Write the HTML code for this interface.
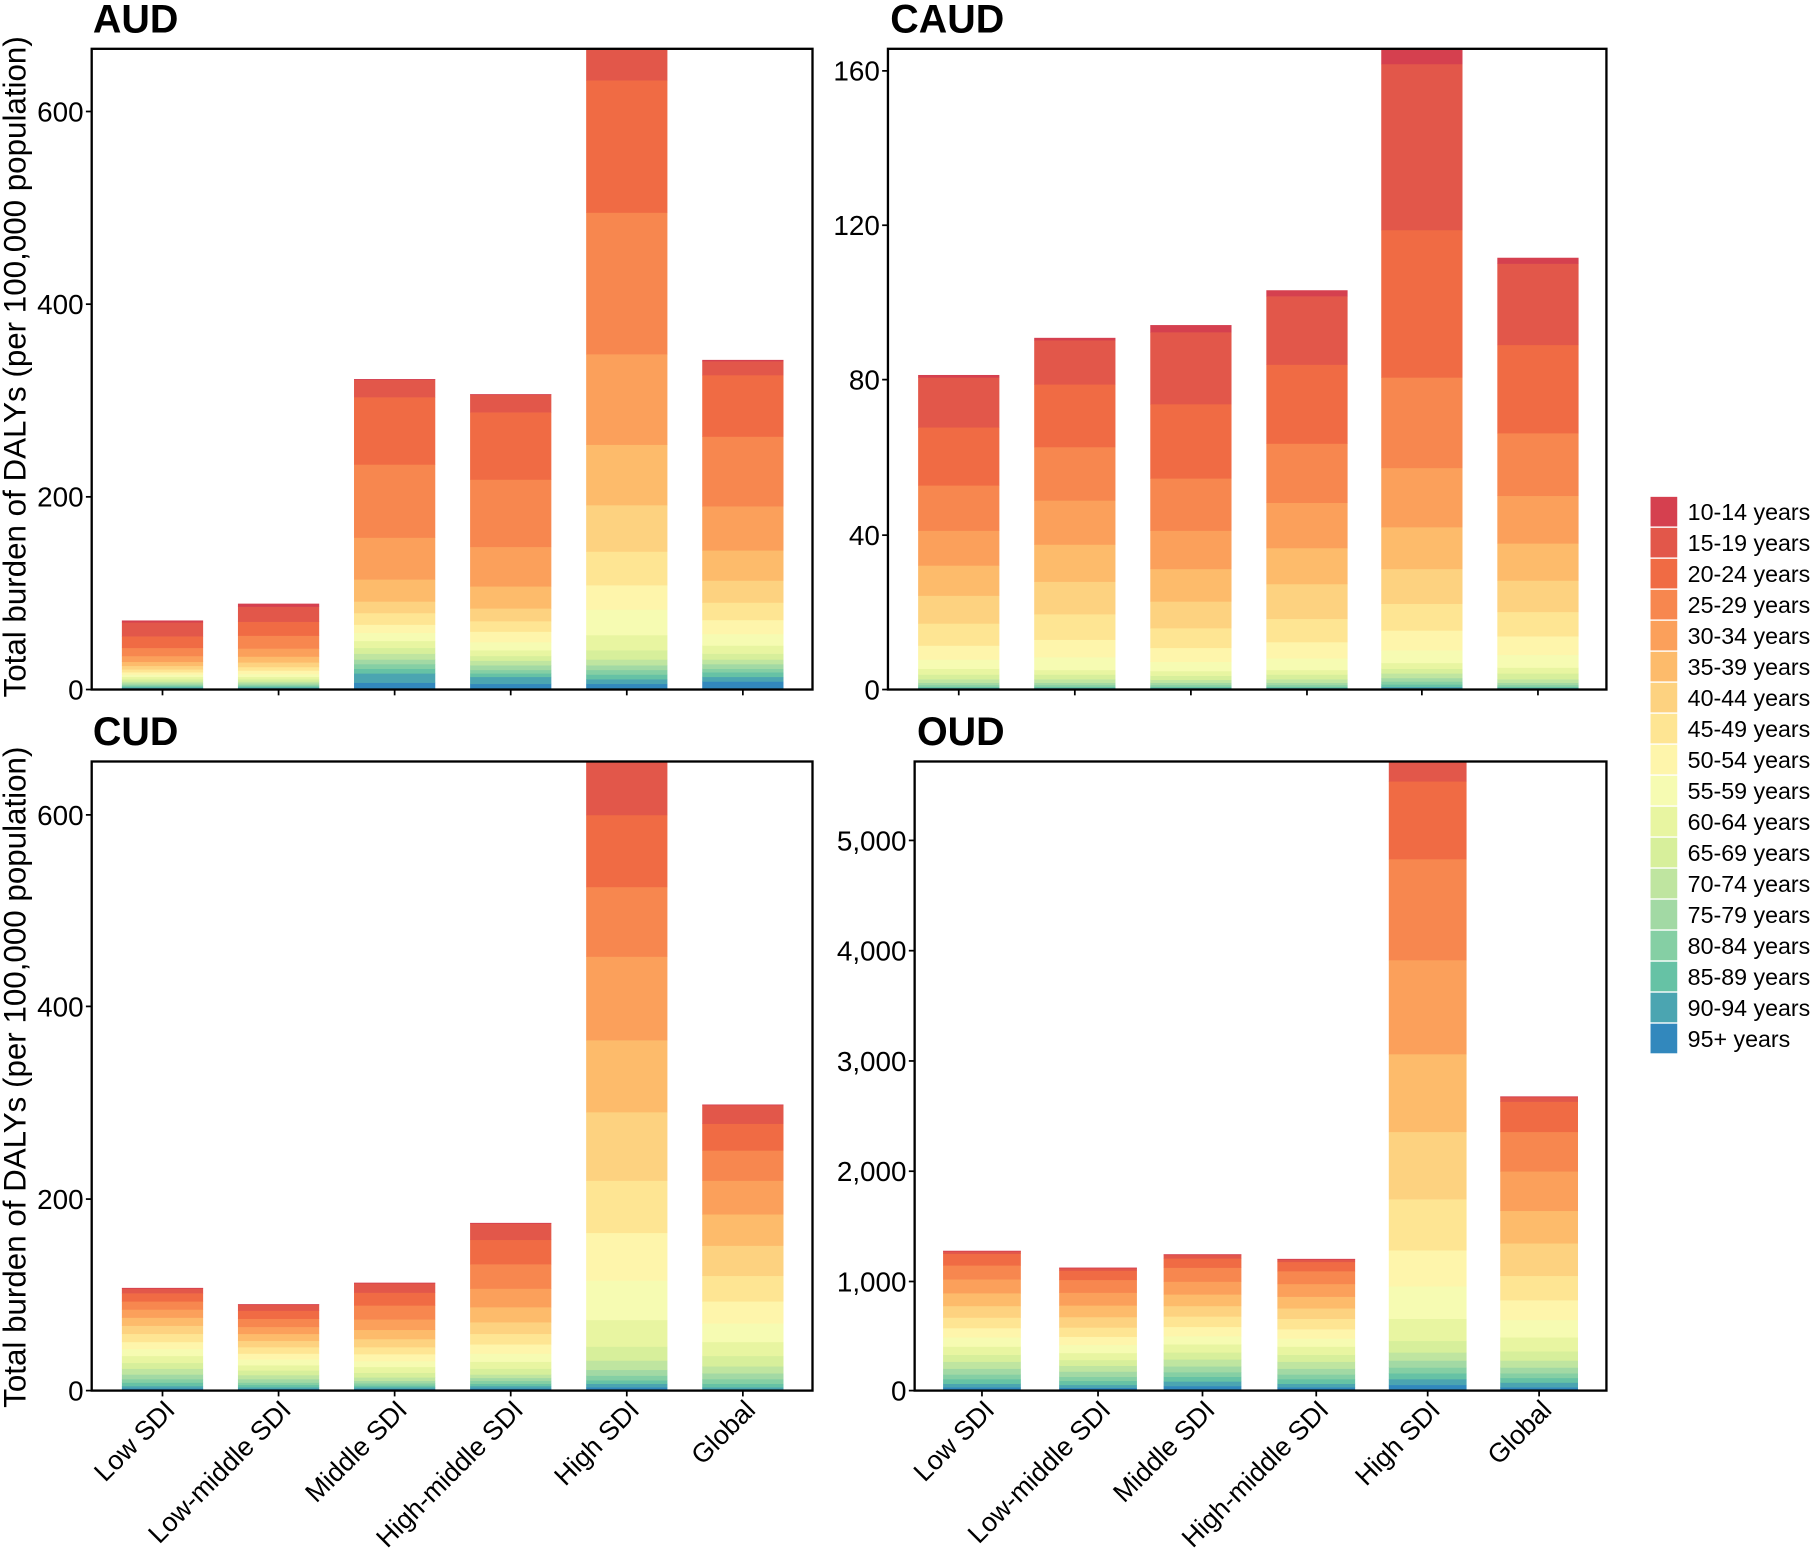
<!DOCTYPE html>
<html><head><meta charset="utf-8"><style>html,body{margin:0;padding:0;background:#fff}svg{display:block}</style></head>
<body>
<svg id="s" width="1820" height="1552" viewBox="0 0 1568 1337" xmlns="http://www.w3.org/2000/svg" font-family="Liberation Sans, Arial, sans-serif"></svg>
<script>
const C=["#3288bd","#4ba5b1","#66c2a5","#85cfa4","#a2d9a4","#bfe5a0","#d7ef9b","#e8f5a1","#f6fbb2","#fef5ab","#fee593","#fdd280","#fdbb6b","#fba05b","#f7874f","#f06b44","#e2574a","#d5404f"];
const labels=["10-14 years","15-19 years","20-24 years","25-29 years","30-34 years","35-39 years","40-44 years","45-49 years","50-54 years","55-59 years","60-64 years","65-69 years","70-74 years","75-79 years","80-84 years","85-89 years","90-94 years","95+ years"];
const P=[
{t:"AUD",tx:80,x0:79,x1:700,y0:42,y1:594,zero:594,ticks:[[0,594,"0"],[200,428,"200"],[400,262,"400"],[600,96,"600"]],cx:[140,240,340,440,540,640],bw:70,bars:[
[1,1,1,1,1.5,1.5,2,2,2,2,2.5,3,3.5,5,7,10,12,1.5],
[1,1,1,1,1.5,1.5,2,2,2.5,3,3,4,5,7,11,12,13,2.5],
[6,8,4,4,4,5,5,6,7,7,10,10,19,36,63,58,15,0.5],
[5,6,3,3,4,4,4,5,7,9,9,11,19,34,58,58,15,0.5],
[5,4,4,4,4,5,8,13,22,21,29,40,52,78,122,114,40,5],
[7,4,4,3,4,4,5,7,10,12,15,19,26,38,60,53,12,1]]},
{t:"CAUD",tx:767,x0:765,x1:1384,y0:42,y1:594,zero:594,ticks:[[0,594,"0"],[40,461,"40"],[80,327,"80"],[120,194,"120"],[160,61,"160"]],cx:[826,926,1026,1126,1225,1325],bw:70,bars:[
[0.5,1,1,1.5,2,3,4,5,8,12,19,24,26,30,39,50,43,2],
[0.5,1,1,1.5,2,3,4,4,11,15,22,28,32,38,46,54,38,2],
[0.5,1,1,1.5,2,2.5,3.5,4,8,12,17,23,28,33,45,64,62,6],
[0.5,1,1,1.5,2,3,4,4,10,14,20,30,31,39,51,68,59,5],
[1,1.5,2,2.5,3,4,4,5,11,17,23,30,36,51,78,127,143,20],
[0.5,1,1,1.5,2,3,5,5,11,16,21,27,32,41,54,76,70,5]]},
{t:"CUD",tx:80,x0:79,x1:700,y0:656,y1:1198,zero:1198,ticks:[[0,1198,"0"],[200,1033,"200"],[400,867,"400"],[600,702,"600"]],cx:[140,240,340,440,540,640],bw:70,xl:true,bars:[
[2,2,3,3,4,5,5,6,6,6,7,7,7,7,7,7,4,0.5],
[1.5,1.5,2,2,3,3.5,4,4.5,5,5,5.5,5.5,6,6,7,7,5,0.5],
[1.5,1.5,1.5,2,2,3,4,5,5,6,6,7,8,9,12,11,8,0.5],
[2,2,2,2.5,2.5,3,5,6,7,8,9,10,13,16,21,21,14,0.5],
[3,3,3,4,5,8,12,23,34,41,45,59,62,72,60,62,46,5],
[1,2,3,4,5,6,9,12,16,19,22,26,27,29,26,23,16,0.5]]},
{t:"OUD",tx:790,x0:788,x1:1384,y0:656,y1:1198,zero:1198,ticks:[[0,1198,"0"],[1,1104,"1,000"],[2,1009,"2,000"],[3,914,"3,000"],[4,819,"4,000"],[5,724,"5,000"]],cx:[846,946,1036,1134,1230,1326],bw:67,xl:true,bars:[
[3,3,4,4,5,6,6,7,8,8,9,10,11,12,12,10,2,0.5],
[2.5,2.5,3.5,3.5,4.5,5,5,6,7,7,8,9,10,11,11,8,2,0.5],
[4,4,4,4,5,6,6,7,7,8,9,9,10,11,12,8,3,0.5],
[3,3,4,4,5,6,6,7,7,8,9,9,10,11,11,8,2,0.5],
[5,5,5,5,6,7,10,19,28,31,44,58,67,81,87,67,30,5],
[3,4,4,4,5,6,8,12,15,17,21,28,28,34,34,26,4,0.5]]}
];
const xn=["Low SDI","Low-middle SDI","Middle SDI","High-middle SDI","High SDI","Global"];
let h="";
P.forEach((p,i)=>{
 h+=`<clipPath id="c${i}"><rect x="${p.x0}" y="${p.y0}" width="${p.x1-p.x0}" height="${p.y1-p.y0}"/></clipPath><g clip-path="url(#c${i})">`;
 p.bars.forEach((b,j)=>{let y=p.zero;b.forEach((v,k)=>{const yy=y-v;h+=`<rect x="${p.cx[j]-p.bw/2}" y="${yy}" width="${p.bw}" height="${v+0.3}" fill="${C[k]}"/>`;y=yy;});});
 h+=`</g><rect x="${p.x0}" y="${p.y0}" width="${p.x1-p.x0}" height="${p.y1-p.y0}" fill="none" stroke="#000" stroke-width="2"/>`;
 h+=`<text x="${p.tx}" y="${p.y0-14}" font-size="34" font-weight="bold">${p.t}</text>`;
 p.ticks.forEach(t=>{h+=`<line x1="${p.x0-5}" x2="${p.x0}" y1="${t[1]}" y2="${t[1]}" stroke="#000" stroke-width="1.5"/><text x="${p.x0-7}" y="${t[1]+8.5}" font-size="24" text-anchor="end">${t[2]}</text>`;});
 p.cx.forEach((c,j)=>{h+=`<line x1="${c}" x2="${c}" y1="${p.y1}" y2="${p.y1+5}" stroke="#000" stroke-width="1.5"/>`;
  if(p.xl)h+=`<text transform="translate(${c+12},${p.y1+18}) rotate(-45)" font-size="23" text-anchor="end">${xn[j]}</text>`;});
});
h+=`<text transform="translate(22,316) rotate(-90)" font-size="27" text-anchor="middle">Total burden of DALYs (per 100,000 population)</text>`;
h+=`<text transform="translate(22,928) rotate(-90)" font-size="27" text-anchor="middle">Total burden of DALYs (per 100,000 population)</text>`;
labels.forEach((l,k)=>{const y=428+k*26.7;h+=`<rect x="1422" y="${y}" width="23" height="25.5" fill="${C[17-k]}"/><text x="1454" y="${y+20}" font-size="20">${l}</text>`;});
document.getElementById("s").innerHTML=h;
</script>
</body></html>
